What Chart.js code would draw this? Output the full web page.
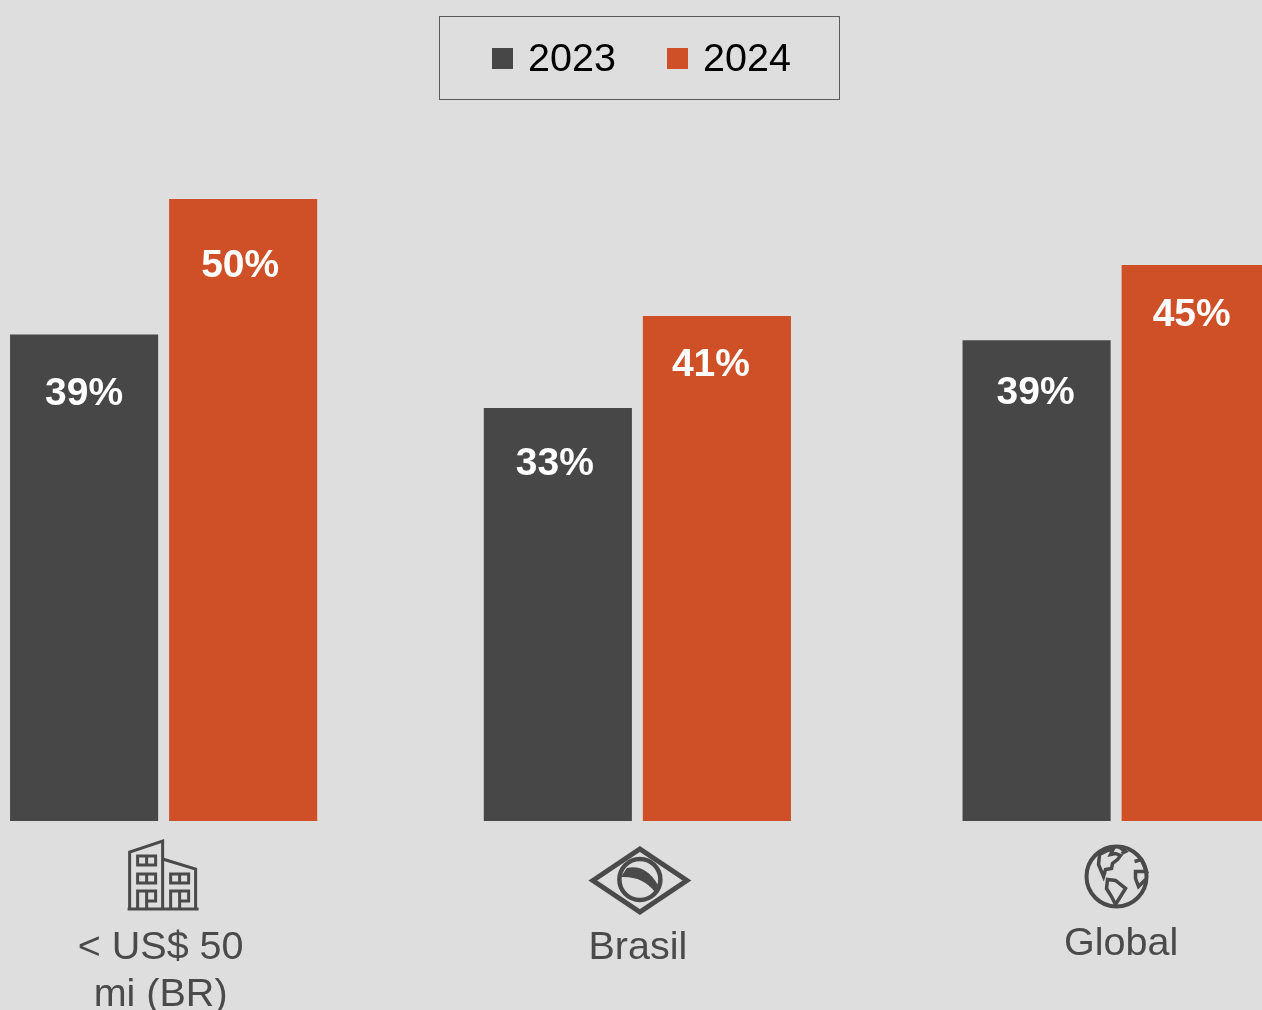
<!DOCTYPE html>
<html lang="pt-BR">
<head>
    <meta charset="UTF-8">
    <title>2023 x 2024</title>
    <script src="https://cdn.jsdelivr.net/npm/chart.js"></script>
    <style>
        html, body {
            margin: 0;
            width: 1262px;
            height: 1010px;
            overflow: hidden;
            background: #dedede;
        }
        #chart {
            position: absolute;
            left: -80px;
            top: 0;
        }
        #legend {
            position: absolute;
            left: 439px;
            top: 16px;
            width: 399px;
            height: 82px;
            border: 1px solid #5a5a5a;
            font: 39.5px "Liberation Sans", Arial, sans-serif;
            color: #000;
        }
        #legend span {
            position: absolute;
            line-height: 82px;
            top: -1px;
        }
        #legend i {
            position: absolute;
            top: 31px;
            width: 21px;
            height: 21px;
        }
    </style>
</head>
<body>
    <canvas id="chart" width="1440" height="1060"></canvas>
    <div id="legend"></div>
    <script>
        const categories = [['< US$ 50', 'mi (BR)'], 'Brasil', 'Global'];
        const years = ['2023', '2024'];
        const values2023 = [39.1, 33.2, 38.65];
        const values2024 = [50, 40.6, 44.7];
        const labels2023 = ['39%', '33%', '39%'];
        const labels2024 = ['50%', '41%', '45%'];

        const colors = ['#474747', '#cf4f27'];
        const iconColor = '#4a4a4a';

        // small manual shifts of the percent labels: [dx from bar centre, dy from bar top]
        const labelShift = [
            [[0, 60], [-3, 56], [-1, 53]],
            [[-3, 67], [-6, 49], [-4, 50]]
        ];
        const labelTexts = [labels2023, labels2024];

        // the groups and tick labels are not evenly spaced in the original
        const groupShift = [0, -2.5, 0];
        const tickShift = [[-3, 0], [-2, 0], [5, -4]];

        function poly(ctx, pts, close) {
            ctx.beginPath();
            pts.forEach((p, i) => i ? ctx.lineTo(p[0], p[1]) : ctx.moveTo(p[0], p[1]));
            if (close) ctx.closePath();
            ctx.stroke();
        }

        function drawBuilding(ctx) {
            ctx.lineWidth = 3;
            poly(ctx, [[-36, 75], [35, 75]]);
            poly(ctx, [[-34, 75], [-34, 18], [-1, 7], [-1, 75]]);
            poly(ctx, [[-1, 25], [32, 35], [32, 75]]);
            [[-26, 22], [-26, 40], [7, 40]].forEach(r => {
                ctx.strokeRect(r[0], r[1], 18, 9);
                poly(ctx, [[r[0] + 9, r[1]], [r[0] + 9, r[1] + 9]]);
            });
            [-26, 7].forEach(x => {
                poly(ctx, [[x, 75], [x, 57], [x + 18, 57], [x + 18, 67], [x + 9, 67]]);
                poly(ctx, [[x + 9, 57], [x + 9, 75]]);
            });
        }

        function drawBrasil(ctx) {
            ctx.lineWidth = 5;
            ctx.lineJoin = 'miter';
            poly(ctx, [[-47, 46.5], [0, 15], [47, 46.5], [0, 78]], true);
            ctx.lineWidth = 4.5;
            ctx.beginPath();
            ctx.arc(0, 45.5, 20.5, 0, Math.PI * 2);
            ctx.stroke();
            ctx.fillStyle = iconColor;
            ctx.beginPath();
            ctx.moveTo(-19, 43);
            ctx.lineTo(-13, 34);
            ctx.quadraticCurveTo(6, 30, 18, 51);
            ctx.lineTo(15, 58);
            ctx.quadraticCurveTo(3, 42, -19, 43);
            ctx.fill();
        }

        const globeLand = [
            [[-17, -22], [-9, -26], [-3, -28], [-6, -22], [-1, -23], [4, -21], [1, -17], [-4, -13], [-5, -8], [-11, -7], [-13, 0], [-18, -12]],
            [[-9, 3], [-1, 4], [9, 12], [4, 20], [-1, 28], [-5, 20], [-10, 12]],
            [[18, -15], [25, -17], [30, -5], [19, -5], [19, 2], [22, 10], [29, 3]],
            [[2, -30], [9, -25], [5, -23]]
        ];

        function drawGlobe(ctx) {
            ctx.translate(0.4, 42.5);
            ctx.lineWidth = 4;
            ctx.beginPath();
            ctx.arc(0, 0, 30, 0, Math.PI * 2);
            ctx.stroke();
            ctx.lineWidth = 3.5;
            poly(ctx, globeLand[0], true);
            poly(ctx, globeLand[1], true);
            poly(ctx, globeLand[2]);
            poly(ctx, globeLand[3]);
        }

        const icons = [drawBuilding, drawBrasil, drawGlobe];

        const overlay = {
            id: 'overlay',
            afterDatasetsUpdate(chart) {
                chart.data.datasets.forEach((ds, d) => {
                    chart.getDatasetMeta(d).data.forEach((bar, i) => { bar.x += groupShift[i]; });
                });
            },
            afterUpdate(chart) {
                chart.scales.x.getLabelItems().forEach((item, i) => {
                    item.options.translation[0] += tickShift[i][0];
                    item.options.translation[1] += tickShift[i][1];
                });
            },
            afterDatasetsDraw(chart) {
                const ctx = chart.ctx;
                ctx.save();
                ctx.fillStyle = '#fff';
                ctx.font = 'bold 39px "Liberation Sans", Arial, sans-serif';
                ctx.textAlign = 'center';
                ctx.textBaseline = 'middle';
                chart.data.datasets.forEach((ds, d) => {
                    chart.getDatasetMeta(d).data.forEach((bar, i) => {
                        const s = labelShift[d][i];
                        ctx.fillText(labelTexts[d][i], bar.x + s[0], bar.y + s[1]);
                    });
                });
                ctx.restore();

                const xScale = chart.scales.x;
                icons.forEach((draw, i) => {
                    ctx.save();
                    ctx.translate(xScale.getPixelForTick(i), chart.chartArea.bottom + 13);
                    ctx.strokeStyle = iconColor;
                    draw(ctx);
                    ctx.restore();
                });
            }
        };

        const chart = new Chart(document.getElementById('chart'), {
            type: 'bar',
            data: {
                labels: categories,
                datasets: [
                    { label: years[0], data: values2023, backgroundColor: colors[0] },
                    { label: years[1], data: values2024, backgroundColor: colors[1] }
                ]
            },
            options: {
                responsive: false,
                animation: false,
                layout: { padding: { top: 199, left: 5.5, right: 5.75, bottom: 0 } },
                categoryPercentage: 0.668,
                barPercentage: 0.931,
                plugins: { legend: { display: false }, tooltip: { enabled: false } },
                scales: {
                    x: {
                        grid: { display: false },
                        border: { display: false },
                        afterFit(scale) { scale.height = 239; },
                        ticks: {
                            maxRotation: 0,
                            autoSkip: false,
                            padding: 95,
                            color: iconColor,
                            font: { family: '"Liberation Sans", Arial, sans-serif', size: 39.5, lineHeight: 1.2 }
                        }
                    },
                    y: { display: false, min: 0, max: 50 }
                }
            },
            plugins: [overlay]
        });

        // legend built from the datasets, the gap between swatch and text is tighter than the native one
        const legend = document.getElementById('legend');
        const legendX = [52, 227];
        chart.data.datasets.forEach((ds, i) => {
            const swatch = document.createElement('i');
            swatch.style.left = legendX[i] + 'px';
            swatch.style.background = ds.backgroundColor;
            const text = document.createElement('span');
            text.style.left = (legendX[i] + 36) + 'px';
            text.textContent = ds.label;
            legend.append(swatch, text);
        });
    </script>
</body>
</html>
